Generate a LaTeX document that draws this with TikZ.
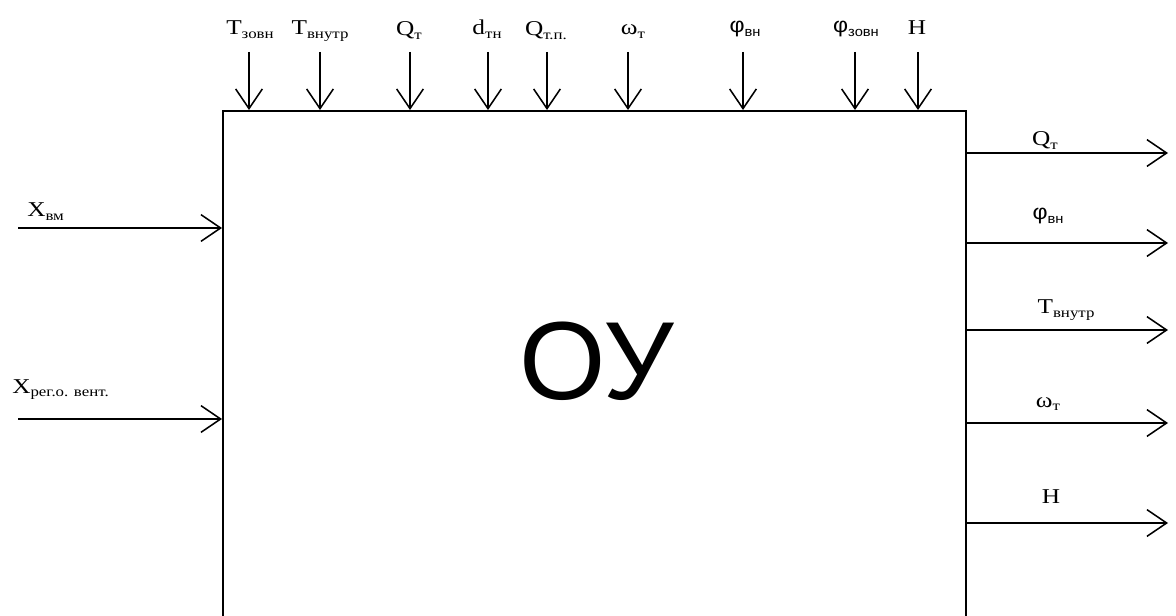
\documentclass[tikz,border=0pt]{standalone}
\usepackage{fontspec}
\setmainfont{Liberation Serif}
\newfontfamily\sansfam{Liberation Sans}
\usetikzlibrary{arrows.meta,positioning}

% label with a small subscript
\newcommand{\sig}[2]{\scalebox{1.2}[1]{\fontsize{15}{15}\selectfont #1\raisebox{-2.5pt}{\fontsize{10}{10}\selectfont #2}}}
\newcommand{\sigphi}[2]{\scalebox{1.1}[1]{\sansfam\fontsize{15}{15}\selectfont #1\raisebox{-2.5pt}{\fontsize{9.5}{9.5}\selectfont #2}}}

\tikzset{
  flow/.style={-{Straight Barb[length=14pt,width=19pt]}, line width=1.1pt},
  lbl/.style={anchor=base, inner sep=0pt}
}

\begin{document}
\begin{tikzpicture}[x=0.025cm, y=-0.025cm]

  % picture frame (the box runs off the bottom edge)
  \clip (0,0) rectangle (1176,616);

  % the object of control
  \node[draw, line width=1.1pt, anchor=north west, inner sep=0pt,
        minimum width={743*0.025cm}, minimum height={540*0.025cm}] (ou) at (222,110) {};
  \node[font=\sansfam\fontsize{79}{79}\selectfont] (ouname) at (597,361) {ОУ};

  % disturbances from the top
  \node[lbl] (tzovn) at (250,35) {\sig{T}{зовн}};
  \node[lbl] (tvn) at (320,35) {\sig{T}{внутр}};
  \node[lbl] (qt) at (409,36) {\sig{Q}{т}};
  \node[lbl] (dtn) at (487,35) {\sig{d}{тн}};
  \node[lbl] (qtp) at (546,36) {\sig{Q}{т.п.}};
  \node[lbl] (omt) at (633,35) {\sig{ω}{т}};
  \node[lbl] (phivn) at (745,33) {\sigphi{φ}{вн}};
  \node[lbl] (phizovn) at (856,33) {\sigphi{φ}{зовн}};
  \node[lbl] (htop) at (917,35) {\sig{H}{}};

  \coordinate (a1) at (249,52);
  \coordinate (a2) at (320,52);
  \coordinate (a3) at (410,52);
  \coordinate (a4) at (488,52);
  \coordinate (a5) at (547,52);
  \coordinate (a6) at (628,52);
  \coordinate (a7) at (743,52);
  \coordinate (a8) at (855,52);
  \coordinate (a9) at (918,52);
  \draw[flow] (a1) -- (a1 |- ou.north);
  \draw[flow] (a2) -- (a2 |- ou.north);
  \draw[flow] (a3) -- (a3 |- ou.north);
  \draw[flow] (a4) -- (a4 |- ou.north);
  \draw[flow] (a5) -- (a5 |- ou.north);
  \draw[flow] (a6) -- (a6 |- ou.north);
  \draw[flow] (a7) -- (a7 |- ou.north);
  \draw[flow] (a8) -- (a8 |- ou.north);
  \draw[flow] (a9) -- (a9 |- ou.north);

  % control inputs on the left
  \node[lbl, anchor=base west] (xvm) at (27,217) {\sig{X}{вм}};
  \node[lbl, anchor=base west] (xreg) at (12,393) {\sig{X}{рег.о. вент.}};
  \coordinate (in1) at (18,228);
  \coordinate (in2) at (18,419);
  \draw[flow] (in1) -- (in1 -| ou.west);
  \draw[flow] (in2) -- (in2 -| ou.west);

  % outputs on the right
  \node[lbl] (qtout) at (1045,146) {\sig{Q}{т}};
  \node[lbl] (phiout) at (1048,220) {\sigphi{φ}{вн}};
  \node[lbl] (tout) at (1066,314) {\sig{T}{внутр}};
  \node[lbl] (omout) at (1048,407) {\sig{ω}{т}};
  \node[lbl] (hout) at (1051,503) {\sig{H}{}};
  \coordinate (out1) at (1168,153);
  \coordinate (out2) at (1168,243);
  \coordinate (out3) at (1168,330);
  \coordinate (out4) at (1168,423);
  \coordinate (out5) at (1168,523);
  \draw[flow] (out1 -| ou.east) -- (out1);
  \draw[flow] (out2 -| ou.east) -- (out2);
  \draw[flow] (out3 -| ou.east) -- (out3);
  \draw[flow] (out4 -| ou.east) -- (out4);
  \draw[flow] (out5 -| ou.east) -- (out5);

\end{tikzpicture}
\end{document}
